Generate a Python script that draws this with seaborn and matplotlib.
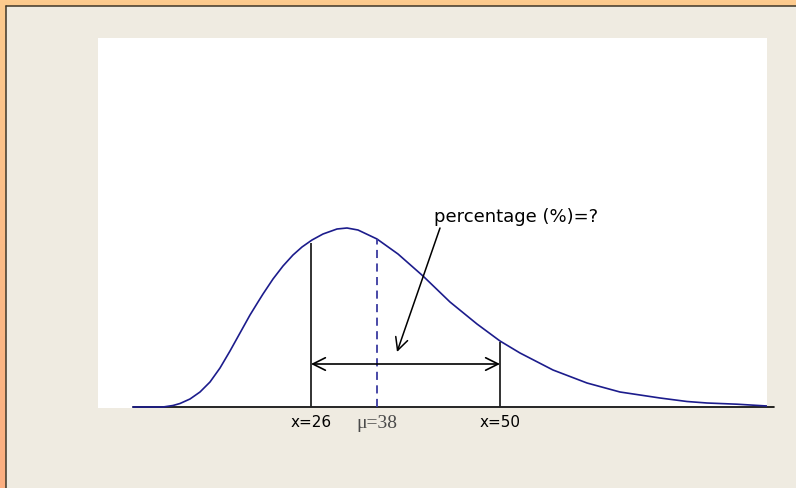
import numpy as np
import pandas as pd
import matplotlib
matplotlib.use("Agg")
import matplotlib.pyplot as plt
from matplotlib.patches import Rectangle
from matplotlib.lines import Line2D
import seaborn as sns

# Right-skewed frequency curve: position along the scale vs. relative frequency
position = [133, 163, 173, 180, 190, 200, 210, 220, 230, 240, 250, 258, 263,
            273, 283, 293, 302, 312, 323, 337, 347, 358, 377, 398, 423, 450,
            477, 500, 520, 553, 587, 620, 640, 660, 687, 707, 737, 767]
frequency = [0, 0, 1.5, 3.5, 8, 15, 25, 39, 56, 74, 92, 105, 113,
             128, 141, 152, 160, 167, 173, 178, 179, 177, 168, 153, 131, 105,
             83, 66, 54, 37, 24, 15, 12, 9, 5.5, 4, 2.8, 1]

# Marked points on the scale
marker_labels = ["x=26", "\u03bc=38", "x=50"]
marker_pos = [311, 377, 500]
marker_height = [164, 168, 65]

question = "percentage (%)=?"

sns.set_theme(style="white")
plt.rcParams["font.family"] = ["DejaVu Sans"]

W, H = 796, 488
fig = plt.figure(figsize=(W / 100, H / 100), dpi=100)

# Frame: orange gradient strip with a beige panel
bg = fig.add_axes([0, 0, 1, 1], zorder=-10)
grad = np.linspace(0, 1, 256).reshape(-1, 1)
top_c = np.array([0xfd, 0xcb, 0x8e]) / 255
bot_c = np.array([0xfb, 0xae, 0x80]) / 255
img = top_c[None, None, :] * (1 - grad[..., None]) + bot_c[None, None, :] * grad[..., None]
bg.imshow(img, aspect="auto", extent=[0, 1, 0, 1])
bg.set_xlim(0, 1)
bg.set_ylim(0, 1)
bg.axis("off")
bg.add_patch(Rectangle((6 / W, 0), 1, 1 - 6 / H, facecolor="#efebe1",
                       edgecolor="none", transform=bg.transAxes))
bg.add_line(Line2D([5.5 / W, 5.5 / W], [0, 1 - 5.5 / H], color="#3e3628",
                   lw=1.1, transform=bg.transAxes))
bg.add_line(Line2D([5.5 / W, 1], [1 - 5.5 / H, 1 - 5.5 / H], color="#3e3628",
                   lw=1.1, transform=bg.transAxes))

ax = fig.add_axes([98 / W, 1 - 408 / H, 669 / W, 370 / H])
ax.set_facecolor("white")
for s in ax.spines.values():
    s.set_visible(False)

df = pd.DataFrame({"position": position, "frequency": frequency})
sns.lineplot(data=df, x="position", y="frequency", ax=ax, color="#1c1c8c",
             lw=1.2, sort=True)

# Baseline
ax.plot([133, 774], [0, 0], color="black", lw=1.2, clip_on=False, zorder=1)

# Bounds and mean
ax.vlines([marker_pos[0], marker_pos[2]], 0, [marker_height[0], marker_height[2]],
          color="#222222", lw=1.3)
ax.plot([marker_pos[1], marker_pos[1]], [0, marker_height[1]], color="#3a3aa0",
        lw=1.3, dashes=(4.5, 3))

# Interval arrow
ax.annotate("", xy=(marker_pos[0], 43), xytext=(marker_pos[2], 43),
            arrowprops=dict(arrowstyle="<->,head_length=0.6,head_width=0.3",
                            color="black", lw=1.2, shrinkA=0, shrinkB=0,
                            mutation_scale=15))

# Question callout
ax.annotate("", xy=(397, 55), xytext=(440, 179),
            arrowprops=dict(arrowstyle="->,head_length=0.6,head_width=0.3",
                            color="black", lw=1.1, shrinkA=0, shrinkB=0,
                            mutation_scale=15))
ax.text(434, 190, question, fontsize=13, ha="left", va="center", color="black")

ax.set_xlim(98, 767)
ax.set_ylim(-1, 369)
ax.set_xticks(marker_pos, marker_labels)
ax.set_yticks([])
ax.set_xlabel("")
ax.set_ylabel("")
ax.tick_params(axis="x", length=0, pad=5, labelsize=11, colors="black")
mu_lab = ax.get_xticklabels()[1]
mu_lab.set_fontfamily("Liberation Serif")
mu_lab.set_fontsize(14)
mu_lab.set_color("#4a4a4a")

fig.savefig("out.png", dpi=100)
